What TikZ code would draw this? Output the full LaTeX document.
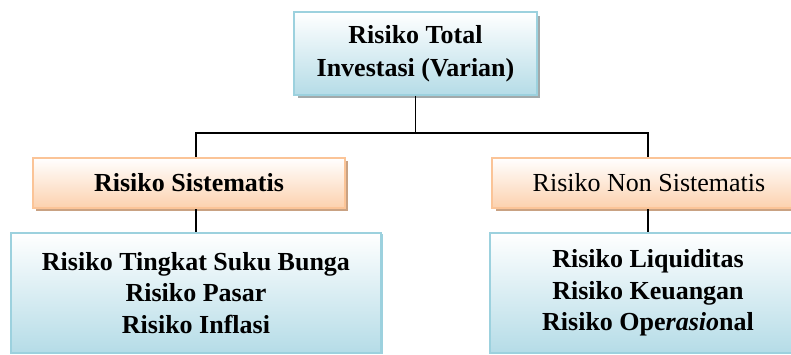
\documentclass[tikz,border=0pt]{standalone}
\usepackage{fontspec}
\setmainfont{Liberation Serif}
\usetikzlibrary{shadows}
\definecolor{boxblue}{HTML}{B5DCE7}
\definecolor{lineblue}{HTML}{9CD1DE}
\definecolor{boxorange}{HTML}{FCD1AE}
\definecolor{lineorange}{HTML}{FBC497}
\definecolor{shadowgray}{HTML}{A2AAAB}
\definecolor{shadowtan}{HTML}{C9A283}
\newcommand\boxfont{\fontsize{19.5}{23.5}\selectfont}
\tikzset{
  box/.style={inner sep=0pt, align=center, font=\boxfont},
  boldbox/.style={font=\boxfont\bfseries},
  bluebox/.style={box, draw=lineblue, line width=1.5pt,
    top color=white, bottom color=boxblue},
  orangebox/.style={box, draw=lineorange, line width=1.5pt,
    top color=white, bottom color=boxorange,
    drop shadow={shadow xshift=2.5pt, shadow yshift=-2.5pt, fill=shadowtan, opacity=1}},
  link/.style={line width=1pt, black}
}
\begin{document}
\begin{tikzpicture}[x=0.75pt,y=-0.75pt]
  \useasboundingbox (0,0) rectangle (791,354);
  % top level
  \node[bluebox, boldbox, minimum width=182pt, minimum height=62pt,
    drop shadow={shadow xshift=2.5pt, shadow yshift=-2.5pt, fill=shadowgray, opacity=1},
    font=\fontsize{19.5}{25}\selectfont\bfseries]
    (total) at (415.5,53.5) {Risiko Total\\Investasi (Varian)};
  % second level
  \node[orangebox, boldbox, minimum width=234pt, minimum height=37.5pt]
    (sis) at (189,183) {Risiko Sistematis};
  \node[orangebox, minimum width=235pt, minimum height=37.5pt]
    (nonsis) at (649,183) {Risiko Non Sistematis};
  % third level
  \node[bluebox, boldbox, minimum width=277pt, minimum height=90pt,
    drop shadow={shadow xshift=1.5pt, shadow yshift=-1pt, fill=lineblue, opacity=1}]
    (sisblue) at (196,293) {Risiko Tingkat Suku Bunga\\Risiko Pasar\\Risiko Inflasi};
  \node[bluebox, boldbox, minimum width=237pt, minimum height=90pt,
    drop shadow={shadow xshift=1.5pt, shadow yshift=-1pt, fill=lineblue, opacity=1}]
    (nonsisblue) at (648,293) {Risiko Liquiditas\\Risiko Keuangan\\Risiko Ope\textit{rasio}nal};
  % connectors
  \coordinate (bus) at (total.south |- 0,133);
  \draw[link] (total.south) -- (bus);
  \draw[link] (bus) -| (sis.north -| sisblue.north);
  \draw[link] (bus) -| (nonsis.north -| nonsisblue.north);
  \draw[link] (sis.south -| sisblue.north) -- (sisblue.north);
  \draw[link] (nonsis.south -| nonsisblue.north) -- (nonsisblue.north);
\end{tikzpicture}
\end{document}
